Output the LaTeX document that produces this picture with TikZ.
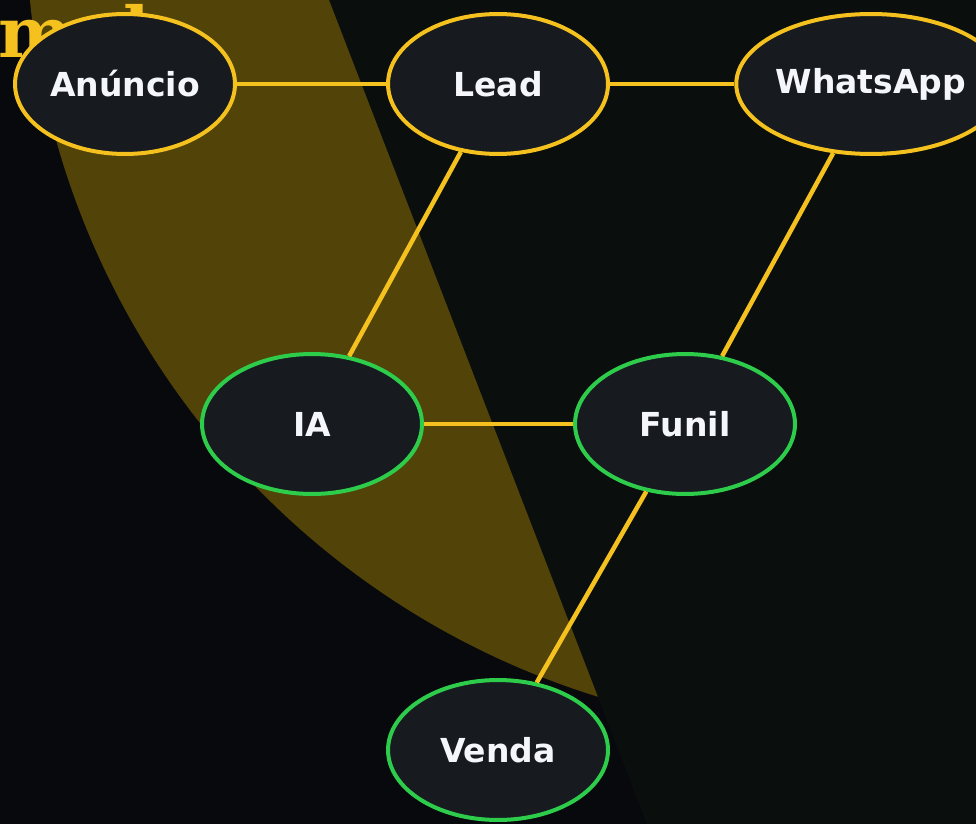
\documentclass[tikz,border=0pt]{standalone}
\usepackage{fontspec}
\newfontfamily\labelfont{DejaVu Sans}
\newfontfamily\titlefont{DejaVu Serif}
\usetikzlibrary{shapes.geometric}

\definecolor{darkleft}{HTML}{07090C}
\definecolor{darkright}{HTML}{0A0F0D}
\definecolor{glowband}{HTML}{524309}
\definecolor{nodefill}{HTML}{171B20}
\definecolor{linkyellow}{HTML}{F5C11E}
\definecolor{stepgreen}{HTML}{2ECC4B}
\definecolor{labelwhite}{HTML}{F5F6FA}

\tikzset{
  stage/.style={ellipse, fill=nodefill, line width=0.08cm,
    minimum width=4.4cm, minimum height=2.8cm, inner sep=0pt,
    text=labelwhite, font=\labelfont\bfseries\fontsize{18.8}{22}\selectfont},
  topstage/.style={stage, draw=linkyellow},
  lowstage/.style={stage, draw=stepgreen},
  link/.style={draw=linkyellow, line width=0.09cm}
}

\begin{document}
\begin{tikzpicture}[x=0.02cm, y=-0.02cm]
                        \useasboundingbox (0,0) rectangle (976,824);
                        \clip (0,0) rectangle (976,824);
                        {

                        % Drawing background halves
                        \fill [darkleft] (0,0) rectangle (976,824);%
                        \fill [darkright] (329,0) -- (976,0) -- (976,824) -- (647,824) -- cycle;%

                        % Drawing band
                        \begin{scope}
                        \clip (0,0) -- (329,0) -- (647,824) -- (0,824) -- cycle;
                        \fill [glowband] (838,-79) circle [radius=16.24cm];%
                        \end{scope}

                        % Marking title
                        \node [anchor=base west, inner sep=0pt, text=linkyellow,
                          font=\titlefont\bfseries\fontsize{39.8}{46}\selectfont] (title) at (-2,58) {mula};%

                        % Drawing node Anuncio
                        \node [topstage] (anuncio) at (125,84) {Anúncio};%

                        % Drawing node Lead
                        \node [topstage] (lead) at (498,84) {Lead};%

                        % Drawing node WhatsApp
                        \node [topstage] (whatsapp) at (871,84) {WhatsApp};%

                        % Drawing node IA
                        \node [lowstage] (ia) at (312,424) {IA};%

                        % Drawing node Funil
                        \node [lowstage] (funil) at (685,424) {Funil};%

                        % Drawing node Venda
                        \node [lowstage] (venda) at (498,750) {Venda};%

                        % Drawing links
                        \draw [link] (anuncio) -- (lead);%
                        \draw [link] (lead) -- (whatsapp);%
                        \draw [link] (lead) -- (ia);%
                        \draw [link] (whatsapp) -- (funil);%
                        \draw [link] (ia) -- (funil);%
                        \draw [link] (funil) -- (venda);%
                        }
                    \end{tikzpicture}
\end{document}
